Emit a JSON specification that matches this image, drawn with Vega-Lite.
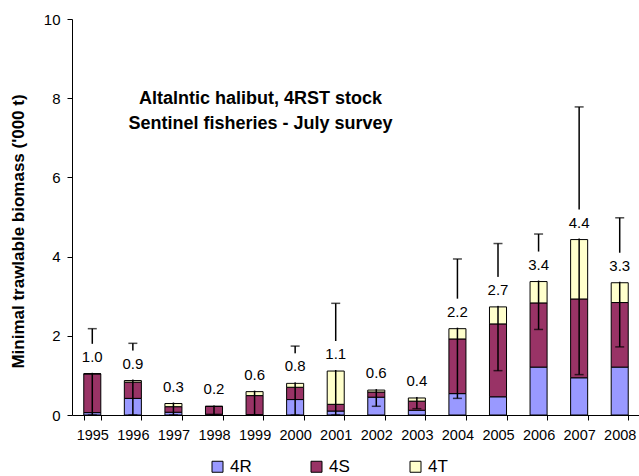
{
  "$schema": "https://vega.github.io/schema/vega-lite/v6.json",
  "autosize": "none",
  "width": 568,
  "height": 396,
  "padding": {"left": 72, "top": 19, "right": 0, "bottom": 61},
  "background": "white",
  "config": {
    "font": "Liberation Sans",
    "view": {"stroke": null},
    "axis": {"labelColor": "#000", "titleColor": "#000", "domainColor": "#000", "tickColor": "#000", "grid": false, "labelFont": "Liberation Sans", "titleFont": "Liberation Sans"}
  },
  "datasets": {
    "parts": [
      {"year": "1995", "region": "4R", "biomass": 0.06}, {"year": "1995", "region": "4S", "biomass": 0.98}, {"year": "1995", "region": "4T", "biomass": 0.0},
      {"year": "1996", "region": "4R", "biomass": 0.42}, {"year": "1996", "region": "4S", "biomass": 0.41}, {"year": "1996", "region": "4T", "biomass": 0.04},
      {"year": "1997", "region": "4R", "biomass": 0.07}, {"year": "1997", "region": "4S", "biomass": 0.14}, {"year": "1997", "region": "4T", "biomass": 0.08},
      {"year": "1998", "region": "4R", "biomass": 0.02}, {"year": "1998", "region": "4S", "biomass": 0.2}, {"year": "1998", "region": "4T", "biomass": 0.0},
      {"year": "1999", "region": "4R", "biomass": 0.01}, {"year": "1999", "region": "4S", "biomass": 0.48}, {"year": "1999", "region": "4T", "biomass": 0.1},
      {"year": "2000", "region": "4R", "biomass": 0.39}, {"year": "2000", "region": "4S", "biomass": 0.31}, {"year": "2000", "region": "4T", "biomass": 0.1},
      {"year": "2001", "region": "4R", "biomass": 0.1}, {"year": "2001", "region": "4S", "biomass": 0.17}, {"year": "2001", "region": "4T", "biomass": 0.84},
      {"year": "2002", "region": "4R", "biomass": 0.45}, {"year": "2002", "region": "4S", "biomass": 0.13}, {"year": "2002", "region": "4T", "biomass": 0.05},
      {"year": "2003", "region": "4R", "biomass": 0.12}, {"year": "2003", "region": "4S", "biomass": 0.23}, {"year": "2003", "region": "4T", "biomass": 0.08},
      {"year": "2004", "region": "4R", "biomass": 0.54}, {"year": "2004", "region": "4S", "biomass": 1.38}, {"year": "2004", "region": "4T", "biomass": 0.26},
      {"year": "2005", "region": "4R", "biomass": 0.46}, {"year": "2005", "region": "4S", "biomass": 1.84}, {"year": "2005", "region": "4T", "biomass": 0.43},
      {"year": "2006", "region": "4R", "biomass": 1.21}, {"year": "2006", "region": "4S", "biomass": 1.62}, {"year": "2006", "region": "4T", "biomass": 0.54},
      {"year": "2007", "region": "4R", "biomass": 0.94}, {"year": "2007", "region": "4S", "biomass": 1.99}, {"year": "2007", "region": "4T", "biomass": 1.5},
      {"year": "2008", "region": "4R", "biomass": 1.21}, {"year": "2008", "region": "4S", "biomass": 1.63}, {"year": "2008", "region": "4T", "biomass": 0.5}
    ],
    "totals": [
      {"year": "1995", "total": 1.04, "lo": 0.0, "hi": 2.18},
      {"year": "1996", "total": 0.87, "lo": 0.0, "hi": 1.81},
      {"year": "1997", "total": 0.29, "lo": 0.0, "hi": 0.55},
      {"year": "1998", "total": 0.22, "lo": 0.0, "hi": 0.45},
      {"year": "1999", "total": 0.59, "lo": 0.0, "hi": 1.15},
      {"year": "2000", "total": 0.8, "lo": 0.0, "hi": 1.74},
      {"year": "2001", "total": 1.11, "lo": 0.0, "hi": 2.82},
      {"year": "2002", "total": 0.63, "lo": 0.22, "hi": 1.04},
      {"year": "2003", "total": 0.43, "lo": 0.16, "hi": 0.7},
      {"year": "2004", "total": 2.18, "lo": 0.42, "hi": 3.94},
      {"year": "2005", "total": 2.73, "lo": 1.12, "hi": 4.33},
      {"year": "2006", "total": 3.37, "lo": 2.16, "hi": 4.57},
      {"year": "2007", "total": 4.43, "lo": 1.02, "hi": 7.78},
      {"year": "2008", "total": 3.34, "lo": 1.72, "hi": 4.98}
    ]
  },
  "encoding": {
    "x": {
      "field": "year", "type": "ordinal",
      "scale": {"paddingInner": 0.58, "paddingOuter": 0.29},
      "axis": {"title": null, "labelAngle": 0, "labelFontSize": 14.5, "tickBand": "extent", "tickSize": 5, "labelPadding": 8, "domainWidth": 1}
    }
  },
  "layer": [
    {
      "data": {"name": "parts"},
      "mark": {"type": "bar", "stroke": "#000", "strokeWidth": 1},
      "encoding": {
        "y": {
          "field": "biomass", "type": "quantitative", "stack": "zero",
          "scale": {"domain": [0, 10]},
          "axis": {"title": "Minimal trawlable biomass ('000 t)", "titleFontSize": 17, "titleFontWeight": "bold", "titleX": -45, "titleY": 212, "titleBaseline": "bottom", "values": [0, 2, 4, 6, 8, 10], "labelFontSize": 15, "tickSize": 5, "labelPadding": 7}
        },
        "color": {
          "field": "region", "type": "nominal",
          "scale": {"domain": ["4R", "4S", "4T"], "range": ["#9999FF", "#993366", "#FFFFCC"]},
          "legend": {
            "title": null, "orient": "none", "direction": "horizontal", "columns": 3, "gridAlign": "all",
            "legendX": 137, "legendY": 439, "symbolType": "square", "symbolSize": 121,
            "symbolStrokeColor": "#000", "symbolStrokeWidth": 1, "labelFontSize": 17, "labelColor": "#000",
            "labelOffset": 4, "columnPadding": 56
          }
        },
        "order": {"field": "region"}
      }
    },
    {
      "data": {"name": "totals"},
      "mark": {"type": "rule", "stroke": "#000", "strokeWidth": 1.5},
      "encoding": {"y": {"field": "lo", "type": "quantitative"}, "y2": {"field": "hi"}}
    },
    {
      "data": {"name": "totals"},
      "mark": {"type": "tick", "color": "#000", "size": 9, "thickness": 1.5},
      "encoding": {"y": {"field": "hi", "type": "quantitative"}}
    },
    {
      "data": {"name": "totals"},
      "mark": {"type": "tick", "color": "#000", "size": 9, "thickness": 1.5},
      "encoding": {"y": {"field": "lo", "type": "quantitative"}}
    },
    {
      "data": {"name": "totals"},
      "mark": {"type": "bar", "color": "white", "width": 30, "yOffset": -1, "y2Offset": -30},
      "encoding": {"y": {"field": "total", "type": "quantitative"}, "y2": {"field": "total"}}
    },
    {
      "data": {"name": "totals"},
      "mark": {"type": "text", "fontSize": 15, "color": "#000", "baseline": "middle", "dy": -17},
      "encoding": {
        "y": {"field": "total", "type": "quantitative"},
        "text": {"field": "total", "type": "quantitative", "format": ".1f"}
      }
    },
    {
      "data": {"values": [{}]},
      "mark": {"type": "text", "fontSize": 18, "fontWeight": "bold", "color": "#000", "align": "center", "baseline": "middle", "lineHeight": 25, "dx": 6},
      "encoding": {
        "x": {"datum": "1999", "type": "ordinal"},
        "y": {"datum": 7.99, "type": "quantitative"},
        "text": {"value": ["Altalntic halibut, 4RST stock", "Sentinel fisheries - July survey"]}
      }
    }
  ]
}
